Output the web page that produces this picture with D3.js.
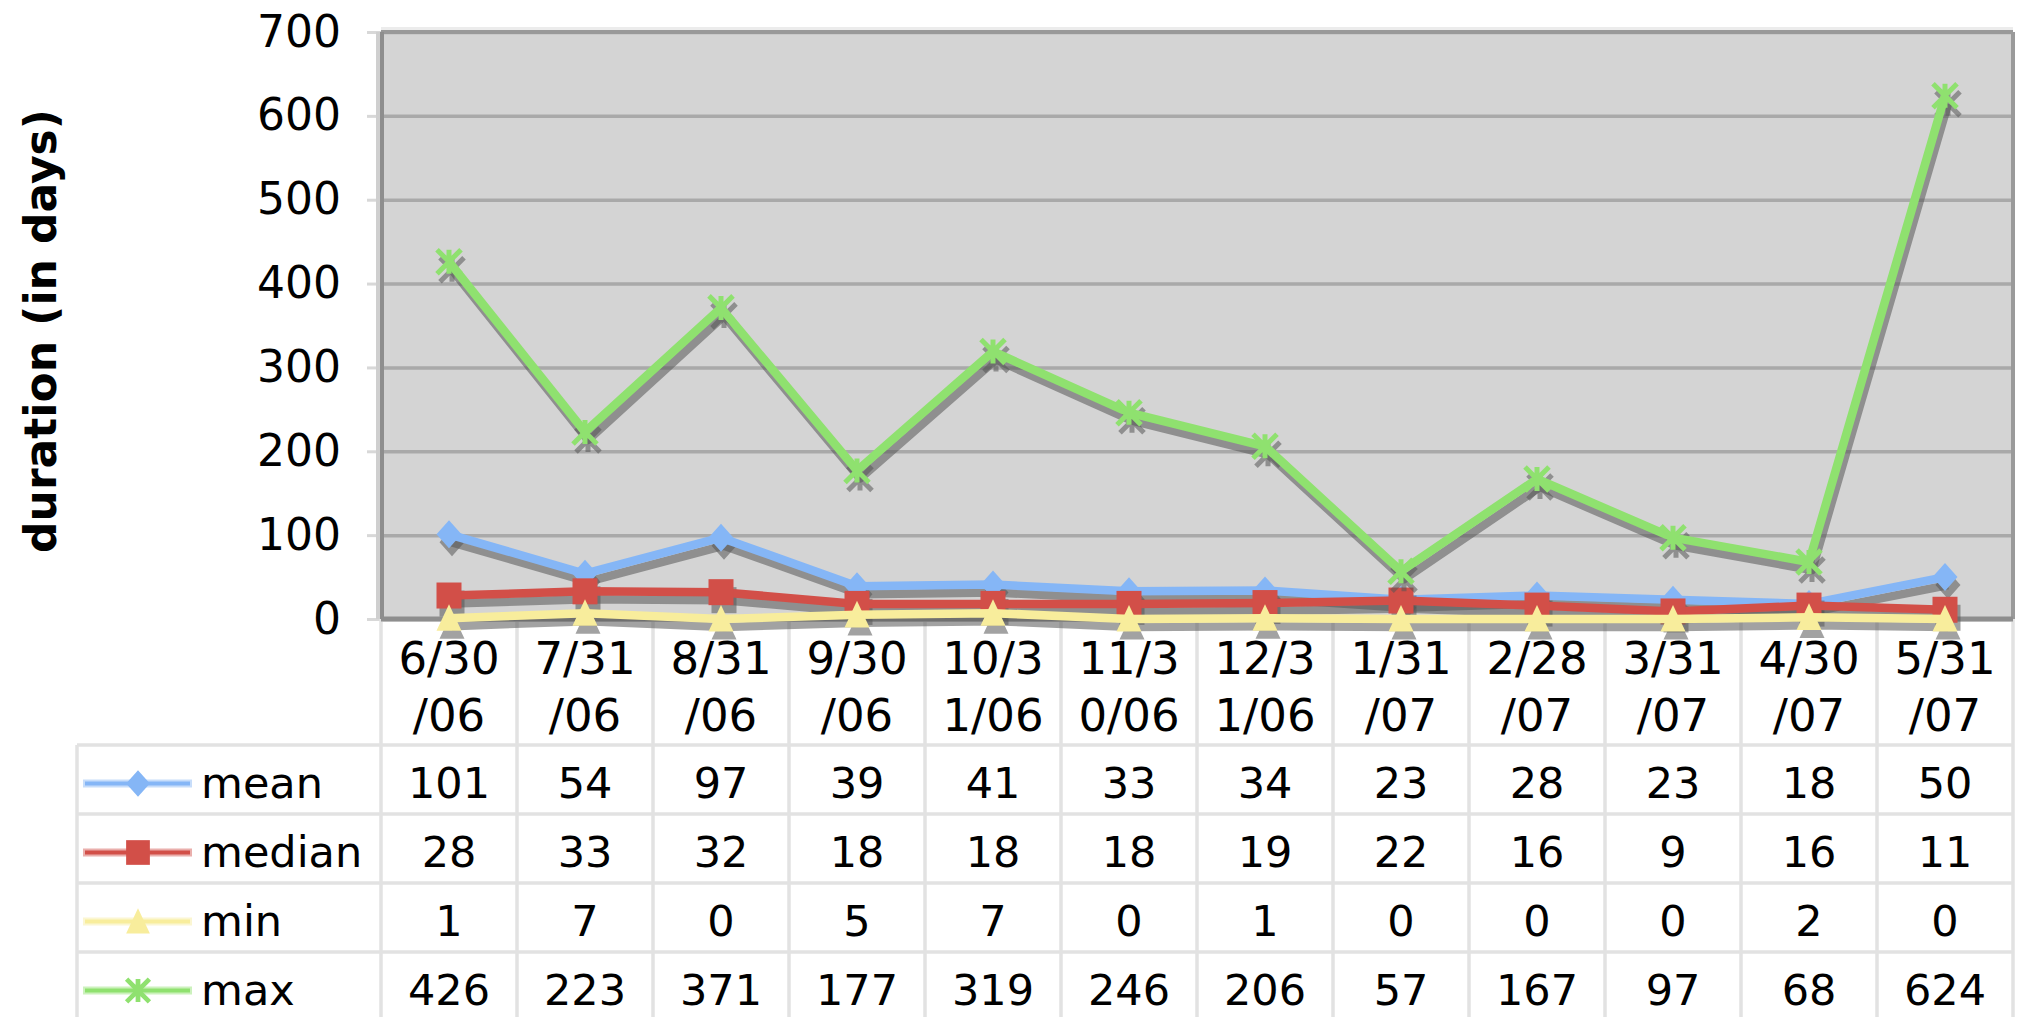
<!DOCTYPE html>
<html>
<head>
<meta charset="utf-8">
<script src="https://cdn.jsdelivr.net/npm/d3@7"></script>
<style>
  html, body { margin: 0; padding: 0; background: #fff; }
  svg { display: block; }
  text { font-family: "DejaVu Sans", Verdana, sans-serif; fill: #000; }
</style>
</head>
<body>
<svg id="chart" width="2017" height="1017"></svg>
<script>
// ---- data ----
const categories = ["6/30/06","7/31/06","8/31/06","9/30/06","10/31/06","11/30/06","12/31/06","1/31/07","2/28/07","3/31/07","4/30/07","5/31/07"];
const meanValues   = [101, 54, 97, 39, 41, 33, 34, 23, 28, 23, 18, 50];
const medianValues = [28, 33, 32, 18, 18, 18, 19, 22, 16, 9, 16, 11];
const minValues    = [1, 7, 0, 5, 7, 0, 1, 0, 0, 0, 2, 0];
const maxValues    = [426, 223, 371, 177, 319, 246, 206, 57, 167, 97, 68, 624];
const seriesNames  = ["mean", "median", "min", "max"];
const yTicks       = [0, 100, 200, 300, 400, 500, 600, 700];
const yTitle       = "duration (in days)";

const seriesValues = [meanValues, medianValues, minValues, maxValues];
const seriesColors = ["#85b6f6", "#d24f48", "#f8ed9c", "#8fe16f"];
const seriesMarkers = ["diamond", "square", "triangle", "star"];

// ---- layout ----
const svg = d3.select("#chart");
const plotL = 381, plotR = 2013, plotT = 32, plotB = 619;
const tableL = 77;
const rowTop = 745, rowH = 69;

const x = d3.scaleBand().domain(categories).range([plotL, plotR]).padding(0);
const y = d3.scaleLinear().domain([0, 700]).range([plotB, plotT]);
const cx = d => x(d) + x.bandwidth() / 2;

// plot background
svg.append("rect")
  .attr("x", plotL).attr("y", plotT)
  .attr("width", plotR - plotL).attr("height", plotB - plotT)
  .attr("fill", "#d4d4d4");

// gridlines + y axis
const yAxis = d3.axisLeft(y).tickValues(yTicks).tickSize(-(plotR - plotL)).tickSizeOuter(0).tickPadding(40);
const gy = svg.append("g").attr("transform", `translate(${plotL},0)`).call(yAxis);
gy.select(".domain").remove();
gy.selectAll(".tick line").attr("stroke", "#a9a9a9").attr("stroke-width", 3.5);
gy.selectAll(".tick text").attr("font-size", 44).attr("fill", "#111")
  .attr("font-family", '"DejaVu Sans", Verdana, sans-serif');
// small outer ticks
gy.selectAll(".tick").append("line")
  .attr("x1", -14).attr("x2", 0).attr("stroke", "#d8d8d8").attr("stroke-width", 3);

// plot border
svg.append("line").attr("x1", plotL).attr("x2", plotR).attr("y1", plotT - 3).attr("y2", plotT - 3)
  .attr("stroke", "#ececec").attr("stroke-width", 4);
svg.append("line").attr("x1", plotL).attr("x2", plotR).attr("y1", plotT).attr("y2", plotT)
  .attr("stroke", "#999", "").attr("stroke-width", 4);
svg.append("line").attr("x1", plotR).attr("x2", plotR).attr("y1", plotT).attr("y2", plotB)
  .attr("stroke", "#9a9a9a").attr("stroke-width", 4);
svg.append("line").attr("x1", plotL - 1).attr("x2", plotL - 1).attr("y1", plotT).attr("y2", plotB)
  .attr("stroke", "#cfcfcf").attr("stroke-width", 8);
svg.append("line").attr("x1", plotL + 1).attr("x2", plotL + 1).attr("y1", plotT).attr("y2", plotB)
  .attr("stroke", "#8e8e8e").attr("stroke-width", 4);

// y title
svg.append("text")
  .attr("transform", `translate(56,${331}) rotate(-90)`)
  .attr("text-anchor", "middle")
  .attr("font-size", 44).attr("font-weight", "bold")
  .text(yTitle);

// ---- table grid ----
const grid = svg.append("g").attr("stroke", "#e2e2e2").attr("stroke-width", 3.5);
const nRows = seriesNames.length;
const tableB = rowTop + nRows * rowH;
for (let r = 0; r <= nRows; r++) {
  grid.append("line").attr("x1", tableL).attr("x2", plotR)
    .attr("y1", rowTop + r * rowH).attr("y2", rowTop + r * rowH);
}
const colEdges = categories.map(c => x(c)).concat([plotR]);
colEdges.forEach(e => {
  grid.append("line").attr("x1", e).attr("x2", e).attr("y1", plotB).attr("y2", tableB);
});
grid.append("line").attr("x1", tableL).attr("x2", tableL).attr("y1", rowTop).attr("y2", tableB);

// x axis line at bottom of plot
svg.append("line").attr("x1", plotL).attr("x2", plotR).attr("y1", plotB).attr("y2", plotB)
  .attr("stroke", "#8e8e8e").attr("stroke-width", 5);

// category labels (wrapped at 4 chars)
const catG = svg.append("g").attr("font-size", 45).attr("text-anchor", "middle");
categories.forEach(c => {
  catG.append("text").attr("x", cx(c)).attr("y", 674).text(c.slice(0, 4));
  catG.append("text").attr("x", cx(c)).attr("y", 731).text(c.slice(4));
});

// ---- markers ----
function shapePath(kind, k) {
  const w = 12.5 * k, h = 14 * k;
  if (kind === "diamond") return `M0,${-h}L${w},0L0,${h}L${-w},0Z`;
  if (kind === "square") return `M${-w},${-13 * k}H${w}V${13 * k}H${-w}Z`;
  if (kind === "triangle") return `M0,${-h}L${w},${h * 0.9}H${-w}Z`;
  const s = 12 * k;
  return `M${-s},${-s}L${s},${s}M${-s},${s}L${s},${-s}M0,${-s}L0,${s}`;
}
function drawMarker(g, kind, px, py, color, k) {
  k = k || 1;
  const p = g.append("path").attr("d", shapePath(kind, k)).attr("transform", `translate(${px},${py})`);
  if (kind === "star") p.attr("fill", "none").attr("stroke", color).attr("stroke-width", 5 * k);
  else p.attr("fill", color);
}

// ---- series lines ----
const line = d3.line().x((d, i) => cx(categories[i])).y(d => y(d));
const shadowColor = "rgba(85,85,85,0.55)";

seriesValues.forEach((vals, s) => {
  const g = svg.append("g");
  const sg = g.append("g").attr("transform", "translate(3,8)");
  sg.append("path").datum(vals).attr("d", line)
    .attr("fill", "none").attr("stroke", shadowColor).attr("stroke-width", 8.5)
    .attr("stroke-linejoin", "round");
  vals.forEach((v, i) => drawMarker(sg, seriesMarkers[s], cx(categories[i]), y(v), shadowColor));
  g.append("path").datum(vals).attr("d", line)
    .attr("fill", "none").attr("stroke", seriesColors[s]).attr("stroke-width", 8.5)
    .attr("stroke-linejoin", "round");
  vals.forEach((v, i) => drawMarker(g, seriesMarkers[s], cx(categories[i]), y(v), seriesColors[s]));
});

// ---- table rows ----
const rowsG = svg.append("g").attr("font-size", 43);
seriesNames.forEach((name, r) => {
  const top = rowTop + r * rowH;
  const mid = top + rowH / 2 + 4;
  rowsG.append("line").attr("x1", 83).attr("x2", 192).attr("y1", mid).attr("y2", mid)
    .attr("stroke", seriesColors[r]).attr("stroke-width", 8).attr("opacity", 0.45);
  rowsG.append("line").attr("x1", 85).attr("x2", 190).attr("y1", mid).attr("y2", mid)
    .attr("stroke", seriesColors[r]).attr("stroke-width", 4);
  drawMarker(rowsG, seriesMarkers[r], 138, mid, seriesColors[r], 0.95);
  rowsG.append("text").attr("x", 201).attr("y", top + 53).text(name);
  seriesValues[r].forEach((v, i) => {
    rowsG.append("text").attr("x", cx(categories[i])).attr("y", top + 53)
      .attr("text-anchor", "middle").text(v);
  });
});
</script>
</body>
</html>
